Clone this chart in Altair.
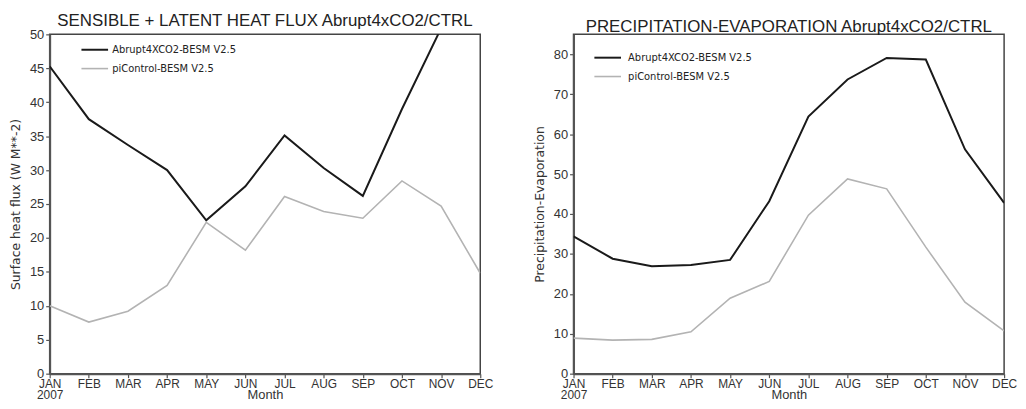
import json
import altair as alt
import pandas as pd

months = ["JAN", "FEB", "MAR", "APR", "MAY", "JUN", "JUL", "AUG", "SEP", "OCT", "NOV", "DEC"]
month_idx = list(range(1, 13))
year_label = "2007"
series_names = ["Abrupt4XCO2-BESM V2.5", "piControl-BESM V2.5"]

# Left panel: sensible + latent heat flux
flux_abrupt = [45.3, 37.5, 33.7, 30.0, 22.6, 27.6, 35.1, 30.3, 26.2, 39.0, 50.9, 60.0]
flux_ctrl = [10.0, 7.6, 9.2, 13.0, 22.3, 18.2, 26.1, 23.9, 22.9, 28.4, 24.7, 14.8]

# Right panel: precipitation - evaporation
pe_abrupt = [34.4, 28.8, 26.9, 27.2, 28.5, 43.2, 64.4, 73.7, 79.1, 78.7, 56.2, 42.8]
pe_ctrl = [8.9, 8.4, 8.6, 10.5, 18.9, 23.1, 39.7, 48.8, 46.3, 31.7, 17.9, 10.7]


def make_df(a, c):
    rows = []
    for m, v in zip(month_idx, a):
        rows.append({"month": m, "value": v, "series": series_names[0], "run": series_names[0]})
    for m, v in zip(month_idx, c):
        rows.append({"month": m, "value": v, "series": series_names[1], "run": series_names[1]})
    return pd.DataFrame(rows)


label_expr = (
    f"datum.value == 1 ? ['{months[0]}', '{year_label}'] : "
    f"{json.dumps(months)}[datum.value - 1]"
)

FONT = "Liberation Sans"
AXC = "#555555"


def panel(df, title, ytitle, ymax, ystep, ydomain_max, lx, ly, loff):
    x = alt.X(
        "month:Q",
        scale=alt.Scale(domain=[1, 12], nice=False, zero=False),
        axis=alt.Axis(
            values=month_idx,
            labelExpr=label_expr,
            title="Month",
            titleY=25,
            titleBaseline="alphabetic",
            labelLineHeight=11,
            labelBaseline="top",
            grid=False,
            tickSize=4,
            labelPadding=1,
            labelFlush=False,
            labelOverlap=False,
        ),
    )
    y = alt.Y(
        "value:Q",
        scale=alt.Scale(domain=[0, ydomain_max], nice=False),
        axis=alt.Axis(
            values=list(range(0, ymax + 1, ystep)),
            title=ytitle,
            grid=False,
            tickSize=4,
            labelPadding=2,
            titlePadding=7,
        ),
    )
    color = alt.Color(
        "series:N",
        scale=alt.Scale(domain=series_names, range=["#1a1a1a", "#b3b3b3"]),
        legend=alt.Legend(
            orient="none",
            legendX=lx,
            legendY=ly,
            title=None,
            symbolType="M-1,0H5",
            symbolSize=80,
            symbolStrokeWidth=1,
            labelFontSize=10,
            labelFont="DejaVu Sans",
            labelColor="#222222",
            labelOffset=loff,
            rowPadding=8,
            padding=0,
        ),
    )
    width_enc = alt.StrokeWidth(
        "run:N",
        scale=alt.Scale(domain=series_names, range=[2, 1.6]),
        legend=None,
    )
    return (
        alt.Chart(df)
        .mark_line(clip=True)
        .encode(x=x, y=y, color=color, strokeWidth=width_enc)
        .properties(
            width=434,
            height=342,
            title=alt.TitleParams(title, fontSize=17, font=FONT, fontWeight="normal",
                                  color="#222222", offset=-2),
        )
    )


left = panel(make_df(flux_abrupt, flux_ctrl),
             "SENSIBLE + LATENT HEAT FLUX Abrupt4xCO2/CTRL",
             "Surface heat flux (W M**-2)", 50, 5, 50, 31, 10, 21)
right = panel(make_df(pe_abrupt, pe_ctrl),
              "PRECIPITATION-EVAPORATION Abrupt4xCO2/CTRL",
              "Precipitation-Evaporation", 80, 10, 85, 20, 18, 24)

chart = (
    alt.hconcat(left, right, spacing=38)
    .resolve_legend(color="independent", strokeWidth="independent")
    .resolve_scale(y="independent")
    .properties(padding={"left": 0, "right": 0, "top": 2, "bottom": 0})
    .configure_view(stroke="#444444", strokeWidth=1.5)
    .configure_axis(
        domainColor=AXC,
        domainWidth=2,
        tickColor=AXC,
        tickWidth=1.2,
        labelFont=FONT,
        labelFontSize=13,
        labelColor="#333333",
        titleFont="DejaVu Sans",
        titleFontSize=12.5,
        titleFontWeight="normal",
        titleColor="#333333",
    )
    .configure_axisX(labelFontSize=12, labelFont=FONT, titleFont=FONT, titleFontSize=13)
)

chart.save("out.html", embed_options={"renderer": "svg", "actions": False})
